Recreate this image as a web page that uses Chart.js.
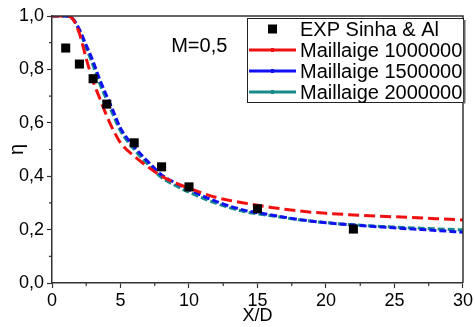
<!DOCTYPE html>
<html>
<head>
<meta charset="utf-8">
<script src="https://cdn.jsdelivr.net/npm/chart.js@4/dist/chart.umd.min.js"></script>
<style>
  html, body { margin: 0; padding: 0; background: #fff; }
  #wrap { width: 475px; height: 327px; }
</style>
</head>
<body>
<div id="wrap"><canvas id="overview"></canvas></div>
<script>
// experimental points (Sinha & Al)
const expX = [1, 2, 3, 4, 6, 8, 10, 15, 22];
const expEta = [0.88, 0.82, 0.765, 0.67, 0.525, 0.435, 0.36, 0.278, 0.202];

// computed curves
const meshX = [0, 0.5, 1, 1.5, 2, 2.5, 3, 3.5, 4, 4.5, 5, 6, 7, 8, 9, 10, 12, 14, 16, 18, 20, 22, 24, 26, 28, 30];
const eta1000000 = [1, 1, 1, 0.99, 0.935, 0.84, 0.755, 0.69, 0.625, 0.57, 0.525, 0.475, 0.435, 0.4, 0.375, 0.355, 0.32, 0.3, 0.283, 0.27, 0.261, 0.255, 0.25, 0.246, 0.241, 0.236];
const eta1500000 = [1, 1, 1, 0.99, 0.95, 0.89, 0.83, 0.76, 0.7, 0.64, 0.58, 0.51, 0.455, 0.405, 0.375, 0.35, 0.305, 0.273, 0.255, 0.238, 0.226, 0.217, 0.21, 0.203, 0.197, 0.19];
const eta2000000 = [1, 1, 1, 0.99, 0.945, 0.88, 0.815, 0.745, 0.685, 0.625, 0.57, 0.5, 0.445, 0.395, 0.365, 0.34, 0.298, 0.268, 0.252, 0.237, 0.226, 0.218, 0.212, 0.207, 0.203, 0.199];

const seriesLabels = ["EXP Sinha & Al", "Maillaige 1000000", "Maillaige 1500000", "Maillaige 2000000"];
const xTicks = [0, 5, 10, 15, 20, 25, 30];
const yTicks = [0, 0.2, 0.4, 0.6, 0.8, 1.0];

const axisColor = "#333";
const font = "Liberation Sans, Arial, sans-serif";

function pts(xs, ys) {
    return xs.map((x, i) => ({ x: x, y: ys[i] }));
}

function curve(label, data, colour, dash) {
    return {
        label: label,
        data: pts(meshX, data),
        showLine: true,
        borderColor: colour,
        backgroundColor: colour,
        borderWidth: 3,
        borderDash: dash,
        pointRadius: 0,
        cubicInterpolationMode: "monotone",
        fill: false
    };
}

// frame, minor ticks, legend box and annotation
const decor = {
    id: "decor",
    afterDraw(chart) {
        const ctx = chart.ctx;
        const a = chart.chartArea;
        const xs = chart.scales.x, ys = chart.scales.y;
        ctx.save();
        ctx.strokeStyle = axisColor;
        ctx.lineWidth = 1.5;
        ctx.beginPath();
        ctx.moveTo(a.left, a.top);
        ctx.lineTo(a.right, a.top);
        ctx.lineTo(a.right, a.bottom);
        ctx.stroke();

        // minor ticks
        ctx.lineWidth = 1.2;
        ctx.beginPath();
        for (let v = 2.5; v < 30; v += 5) {
            const px = xs.getPixelForValue(v);
            ctx.moveTo(px, a.bottom);
            ctx.lineTo(px, a.bottom + 3);
        }
        for (let v = 0.1; v < 1; v += 0.2) {
            const py = ys.getPixelForValue(v);
            ctx.moveTo(a.left, py);
            ctx.lineTo(a.left - 3, py);
        }
        ctx.stroke();

        // M=0,5
        ctx.fillStyle = "#000";
        ctx.font = "20px " + font;
        ctx.textBaseline = "middle";
        ctx.textAlign = "left";
        ctx.fillText("M=0,5", xs.getPixelForValue(8.7), ys.getPixelForValue(0.885));

        // legend
        const lx = 247, ly = 18, lw = 216, lh = 84;
        ctx.fillStyle = "#fff";
        ctx.fillRect(lx, ly, lw, lh);
        ctx.strokeStyle = "#222";
        ctx.lineWidth = 1;
        ctx.strokeRect(lx + 0.5, ly + 0.5, lw, lh);
        ctx.strokeStyle = "#666";
        ctx.lineWidth = 2;
        ctx.beginPath();
        ctx.moveTo(lx + lw + 1.5, ly + 2);
        ctx.lineTo(lx + lw + 1.5, ly + lh + 1.5);
        ctx.stroke();

        const rows = [29, 50, 71, 92];
        chart.data.datasets.forEach((ds, i) => {
            const ry = rows[i];
            if (i === 0) {
                ctx.fillStyle = "#000";
                ctx.fillRect(268, ry - 4.5, 9, 9);
            } else {
                ctx.strokeStyle = ds.borderColor;
                ctx.lineWidth = 3;
                ctx.setLineDash([]);
                ctx.beginPath();
                ctx.moveTo(249, ry);
                ctx.lineTo(296, ry);
                ctx.stroke();
                ctx.fillStyle = ds.borderColor;
                ctx.fillRect(271, ry - 2, 3, 4);
            }
            ctx.fillStyle = "#000";
            ctx.font = "20px " + font;
            ctx.textAlign = "left";
            ctx.fillText(ds.label, 300, ry + 1);
        });
        ctx.restore();
    }
};

new Chart(document.getElementById("overview").getContext("2d"), {
    type: "scatter",
    data: {
        datasets: [
            {
                label: seriesLabels[0],
                data: pts(expX, expEta),
                pointStyle: "rect",
                pointRadius: 6.4,
                backgroundColor: "#000",
                borderColor: "#000",
                borderWidth: 0,
                showLine: false
            },
            curve(seriesLabels[1], eta1000000, "#f01010", [11, 5]),
            curve(seriesLabels[2], eta1500000, "#1010f0", [7, 3]),
            curve(seriesLabels[3], eta2000000, "#178a8a", [7, 3])
        ]
    },
    options: {
        responsive: true,
        maintainAspectRatio: false,
        animation: false,
        layout: { padding: { top: 16, right: 10, left: 0, bottom: 0 } },
        plugins: {
            legend: { display: false },
            tooltip: { enabled: false }
        },
        scales: {
            x: {
                type: "linear",
                min: 0, max: 30,
                afterFit(s) { s.height = 44; },
                afterBuildTicks(s) { s.ticks = xTicks.map(v => ({ value: v })); },
                grid: { drawOnChartArea: false, tickLength: 5, tickColor: axisColor, tickWidth: 1.2 },
                border: { color: axisColor, width: 1.5 },
                ticks: { color: "#000", padding: 2, maxRotation: 0, font: { family: font, size: 18 } },
                title: { display: true, text: "X/D", color: "#000", padding: { top: 0, bottom: 0 }, font: { family: font, size: 18 } }
            },
            y: {
                type: "linear",
                min: 0, max: 1,
                afterFit(s) { s.width = 52; },
                afterBuildTicks(s) { s.ticks = yTicks.map(v => ({ value: v })); },
                grid: { drawOnChartArea: false, tickLength: 5, tickColor: axisColor, tickWidth: 1.2 },
                border: { color: axisColor, width: 1.5 },
                ticks: {
                    color: "#000", padding: 3,
                    font: { family: font, size: 18 },
                    callback: v => v.toFixed(1).replace(".", ",")
                },
                title: { display: true, text: "η", color: "#000", padding: { top: 5, bottom: 0 }, font: { family: font, size: 20 } }
            }
        }
    },
    plugins: [decor]
});
</script>
</body>
</html>
